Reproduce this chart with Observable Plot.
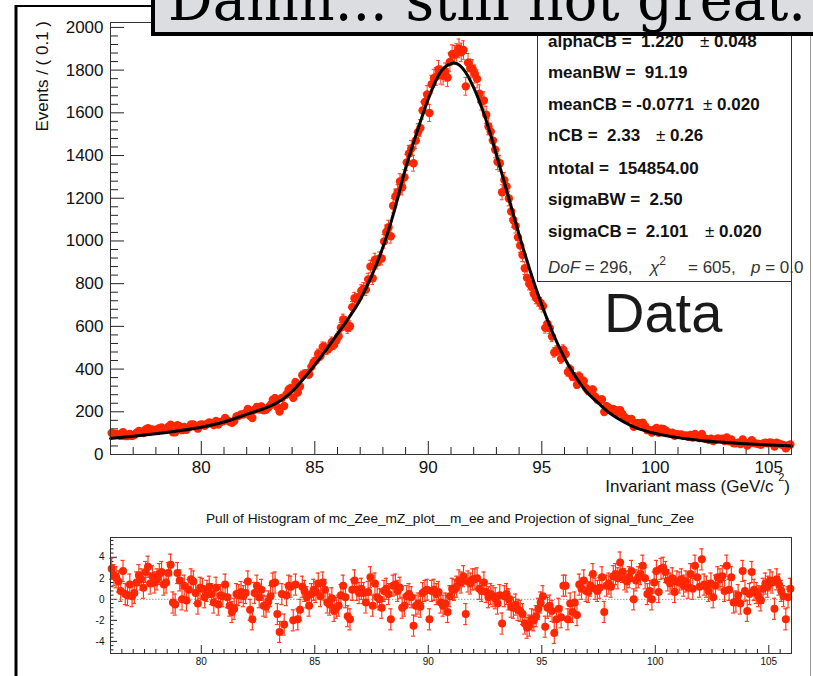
<!DOCTYPE html>
<html><head><meta charset="utf-8">
<script src="https://cdn.jsdelivr.net/npm/d3@7"></script>
<script src="https://cdn.jsdelivr.net/npm/@observablehq/plot@0.6"></script>
<style>
html,body{margin:0;padding:0;background:#fff;}
#wrap{position:relative;width:813px;height:676px;overflow:hidden;background:#fff;}
#top,#pull{position:absolute;left:0;width:813px;}
#top{top:0;} #pull{top:500px;}
#over{position:absolute;left:0;top:0;pointer-events:none;}
#top svg,#pull svg{max-width:none;background:transparent;}
</style></head><body>
<div id="wrap"><div id="top"></div><div id="pull"></div>
<svg id="over" width="813" height="676" font-family="'Liberation Sans', Arial, sans-serif"></svg>
</div>
<script>
// ---------- data ----------
const binLow = 76, binWidth = 0.1;
const counts = [
101,97,96,94,87,105,86,86,96,87,
91,102,110,107,101,117,123,109,117,112,
117,123,127,116,120,130,140,104,104,137,
131,114,129,116,128,141,141,130,121,140,
141,134,143,150,145,138,157,140,153,155,
171,160,153,149,157,178,181,188,187,194,
213,180,171,210,223,211,225,207,209,220,
232,256,264,223,201,265,227,281,304,311,
266,338,291,319,371,377,378,376,411,432,
441,472,461,504,503,490,500,527,514,534,
554,594,632,621,592,601,690,732,727,737,
767,777,772,820,880,825,912,899,918,918,
998,1042,1064,1022,1165,1208,1228,1279,1251,1298,
1368,1410,1433,1364,1470,1510,1529,1611,1651,1686,
1599,1734,1762,1770,1803,1777,1773,1791,1765,1838,
1875,1872,1880,1902,1883,1894,1724,1835,1809,1806,
1782,1759,1690,1654,1658,1591,1536,1512,1470,1427,
1371,1364,1228,1285,1255,1199,1138,1097,1070,1017,
978,934,872,827,799,785,752,733,722,708,
694,593,612,591,552,478,487,488,448,491,
470,386,399,365,365,327,367,344,344,311,
297,297,304,271,258,252,258,199,226,219,
206,213,208,196,208,190,175,167,165,166,
130,147,146,145,149,133,114,114,103,116,
124,102,121,120,114,104,100,102,88,95,
93,94,87,89,83,92,79,96,85,77,
96,76,73,69,74,63,70,75,73,74,
63,80,62,70,52,52,55,49,70,56,
42,53,67,54,51,49,46,52,55,52,
56,54,37,55,51,47,43,29,42,47];
const pulls = [
2.9,2.3,2.1,1.7,0.8,2.7,0.5,0.4,1.4,0.3,
0.6,1.6,2.3,1.9,1.1,2.6,3.1,1.5,2.2,1.6,
1.9,2.4,2.6,1.4,1.6,2.5,3.3,-0.3,-0.5,2.5,
1.8,0.0,1.3,-0.1,0.9,1.9,1.7,0.6,-0.4,1.1,
1.0,0.2,0.8,1.2,0.5,-0.3,1.1,-0.5,0.4,0.3,
1.4,0.2,-0.6,-1.2,-0.9,0.5,0.4,0.7,0.3,0.6,
1.7,-1.0,-1.9,0.6,1.3,0.2,0.9,-0.6,-0.7,-0.2,
0.3,1.5,1.6,-1.4,-3.1,0.5,-2.4,0.4,1.3,1.2,
-2.0,1.4,-1.9,-1.0,1.2,0.8,0.2,-0.6,0.5,0.9,
0.7,1.5,0.3,1.6,0.9,-0.3,-0.5,0.1,-1.1,-0.8,
-0.6,0.4,1.3,0.2,-1.6,-1.9,0.9,1.8,0.9,0.6,
1.0,0.6,-0.3,0.7,2.1,-0.6,1.5,0.2,0.0,-0.8,
0.8,1.0,0.5,-1.9,1.3,1.4,0.8,1.1,-0.8,-0.6,
0.3,0.5,0.2,-2.5,-0.6,-0.4,-0.7,0.6,0.8,0.9,
-1.9,0.8,0.9,0.5,0.7,-0.3,-0.6,-0.4,-1.2,0.3,
1.0,0.9,1.2,1.8,1.6,2.2,-1.4,1.7,1.5,1.9,
1.9,2.0,1.0,0.8,1.6,0.7,0.2,0.5,0.3,0.1,
-0.4,0.4,-2.3,0.3,0.5,0.0,-0.7,-0.8,-0.5,-1.0,
-1.1,-1.4,-2.3,-2.7,-2.5,-1.9,-2.0,-1.6,-0.9,-0.3,
0.3,-2.6,-0.8,-0.6,-1.1,-3.2,-1.9,-0.9,-1.7,1.3,
1.3,-1.9,-0.4,-1.2,-0.3,-1.5,1.4,1.0,1.8,0.8,
0.7,1.3,2.4,1.0,0.8,1.1,2.1,-1.2,1.3,1.5,
1.2,2.2,2.4,2.0,3.5,2.6,1.9,1.7,2.1,2.7,
0.0,1.8,2.1,2.4,3.2,2.0,0.5,0.8,0.0,1.6,
2.7,0.7,2.9,3.0,2.6,1.8,1.5,2.0,0.7,1.7,
1.6,1.9,1.3,1.7,1.1,2.4,1.0,3.2,2.1,1.2,
3.8,1.4,1.2,0.8,1.5,0.2,1.3,2.1,1.9,2.2,
0.8,3.2,0.9,2.1,-0.3,-0.2,0.4,-0.4,2.7,0.8,
-1.1,0.5,2.6,0.9,0.6,0.3,-0.1,1.0,1.5,1.2,
1.8,1.6,-0.9,1.9,1.4,0.8,0.3,-1.9,0.2,1.0];
const fitX = [76,77,78,79,80,81,82,83,83.5,84,84.5,85,85.5,86,86.5,87,87.5,88,88.5,89,89.5,90,90.5,91,91.11,91.5,92,92.5,93,93.5,94,94.5,95,95.5,96,96.5,97,97.5,98,98.5,99,99.5,100,101,102,103,104,105,106];
const fitY = [75,85,97,111,128,152,188,225,253,295,355,420,490,565,640,725,835,970,1140,1340,1510,1665,1785,1830,1833,1810,1718,1580,1405,1218,1030,856,700,565,452,362,290,240,193,160,132,113,98,79,66,57,50,44,40];
const xMajor = [80,85,90,95,100,105];
const yMajor = [0,200,400,600,800,1000,1200,1400,1600,1800,2000];
const pullMajor = [-4,-2,0,2,4];

// ---------- derived ----------
const bins = counts.map((c,i)=>({x: binLow + binWidth*(i+0.5), y: c, e: Math.sqrt(c)}));
const pullBins = pulls.map((p,i)=>({x: binLow + binWidth*(i+0.5), y: p}));
const fit = fitX.map((x,i)=>({x, y: fitY[i]}));
const xMinor = d3.range(76,107,1).filter(v=>!xMajor.includes(v));
const yMinor = d3.range(0,2001,40).filter(v=>v%200!==0);
const pxMinor = d3.range(76,106.01,0.5).filter(v=>v%5!==0);
const pyMinor = d3.range(-4.8,5.7,0.4).map(v=>+v.toFixed(1)).filter(v=>Math.abs(v%2)>0.01);

const red = "#ff2600", ebar = "#ff3a1a", tick = "#222";
const W = 813, L = 110, R = 22;
const frameW = W - L - R;
const font = "'Liberation Sans', Arial, Helvetica, sans-serif";

// ---------- top panel ----------
const T = 22, B = 46, H = 500, frameH = H - T - B;
const topPlot = Plot.plot({
  width: W, height: H, marginLeft: L, marginRight: R, marginTop: T, marginBottom: B,
  style: {fontFamily: font, fontSize: "17px", color: "#111", background: "transparent"},
  x: {domain: [76,106], ticks: xMajor, tickSize: 0, tickPadding: 6, tickFormat: d=>String(d), label: null},
  y: {domain: [0,2023], ticks: yMajor, tickSize: 0, tickPadding: 7, tickFormat: d=>String(d), label: null},
  marks: [
    Plot.ruleX(xMinor, {x: d=>d, insetTop: frameH-7, stroke: tick}),
    Plot.ruleX(xMajor, {x: d=>d, insetTop: frameH-13, stroke: tick}),
    Plot.ruleY(yMinor, {y: d=>d, insetRight: frameW-8, stroke: tick}),
    Plot.ruleY(yMajor, {y: d=>d, insetRight: frameW-14, stroke: tick}),
    Plot.ruleX(bins, {x: "x", y1: d=>d.y-d.e, y2: d=>d.y+d.e, stroke: ebar, strokeWidth: 1}),
    Plot.ruleY(bins, {y: d=>d.y+d.e, x1: d=>d.x-0.08, x2: d=>d.x+0.08, stroke: ebar, strokeWidth: 1}),
    Plot.ruleY(bins, {y: d=>d.y-d.e, x1: d=>d.x-0.08, x2: d=>d.x+0.08, stroke: ebar, strokeWidth: 1}),
    Plot.dot(bins, {x: "x", y: "y", r: 4.2, fill: red, stroke: "none"}),
    Plot.line(fit, {x: "x", y: "y", stroke: "#000", strokeWidth: 3, curve: "monotone-x"}),
    Plot.frame({stroke: "#333"})
  ]
});
document.getElementById("top").appendChild(topPlot);

// ---------- pull panel ----------
const PT = 37, PB = 23, PH = 176, pFrameH = PH - PT - PB;
const pullPlot = Plot.plot({
  width: W, height: PH, marginLeft: L, marginRight: R, marginTop: PT, marginBottom: PB,
  style: {fontFamily: font, fontSize: "10px", color: "#111", background: "transparent"},
  x: {domain: [76,106], ticks: xMajor, tickSize: 0, tickPadding: 4, tickFormat: d=>String(d), label: null},
  y: {domain: [-5.15,5.88], ticks: pullMajor, tickSize: 0, tickPadding: 6, tickFormat: d=>String(d), label: null},
  marks: [
    Plot.ruleX(pxMinor, {x: d=>d, insetTop: pFrameH-4, stroke: tick}),
    Plot.ruleX(xMajor, {x: d=>d, insetTop: pFrameH-8, stroke: tick}),
    Plot.ruleY(pyMinor, {y: d=>d, insetRight: frameW-3.5, stroke: tick}),
    Plot.ruleY(pullMajor, {y: d=>d, insetRight: frameW-7, stroke: tick}),
    Plot.ruleY([0], {stroke: "#999", strokeDasharray: "1.5,1.5"}),
    Plot.ruleX(pullBins, {x: "x", y1: d=>d.y-1, y2: d=>d.y+1, stroke: ebar, strokeWidth: 1.2}),
    Plot.ruleY(pullBins, {y: d=>d.y+1, x1: d=>d.x-0.09, x2: d=>d.x+0.09, stroke: ebar, strokeWidth: 1.2}),
    Plot.ruleY(pullBins, {y: d=>d.y-1, x1: d=>d.x-0.09, x2: d=>d.x+0.09, stroke: ebar, strokeWidth: 1.2}),
    Plot.dot(pullBins, {x: "x", y: "y", r: 4, fill: red, stroke: "none"}),
    Plot.frame({stroke: "#333"})
  ]
});
document.getElementById("pull").appendChild(pullPlot);

// ---------- overlay texts and boxes ----------
const S = "\u00A0";
const over = document.getElementById("over");
over.innerHTML = `
<line x1="16" y1="5" x2="16" y2="676" stroke="#000" stroke-width="3"/>
<line x1="15" y1="6" x2="813" y2="6" stroke="#000" stroke-width="2"/>
<line x1="810.5" y1="0" x2="810.5" y2="676" stroke="#999" stroke-width="1"/>
<text transform="translate(48,21) rotate(-90)" text-anchor="end" font-size="17" fill="#111">Events / ( 0.1 )</text>
<text x="790" y="492" text-anchor="end" font-size="17" fill="#111">Invariant mass (GeV/c${S}<tspan dy="-11" font-size="11">2</tspan><tspan dy="11">)</tspan></text>
<rect x="537.5" y="0" width="254" height="281.5" fill="#fff" stroke="#333" stroke-width="1"/>
<g font-size="17" font-weight="bold" fill="#111">
<text x="548" y="46.5">alphaCB =${S}${S}1.220</text><text x="700" y="46.5"><tspan font-weight="normal">±</tspan>${S}0.048</text>
<text x="548" y="78">meanBW =${S}${S}91.19</text>
<text x="548" y="109.5">meanCB = -0.0771</text><text x="703" y="109.5"><tspan font-weight="normal">±</tspan>${S}0.020</text>
<text x="548" y="141">nCB =${S}${S}2.33</text><text x="656" y="141"><tspan font-weight="normal">±</tspan>${S}0.26</text>
<text x="548" y="173.5">ntotal =${S}${S}154854.00</text>
<text x="548" y="205">sigmaBW =${S}${S}2.50</text>
<text x="548" y="236.5">sigmaCB =${S}${S}2.101</text><text x="705" y="236.5"><tspan font-weight="normal">±</tspan>${S}0.020</text>
</g>
<g font-size="17" fill="#333">
<text x="548" y="273"><tspan font-style="italic">DoF</tspan> = 296,</text>
<text x="650" y="273"><tspan font-style="italic">χ</tspan><tspan dy="-8" font-size="12">2</tspan></text>
<text x="688" y="273">= 605,</text>
<text x="751" y="273"><tspan font-style="italic">p</tspan> = 0.0</text>
</g>
<text x="604" y="332" font-size="56" fill="#1a1a1a">Data</text>
<text x="450" y="523" text-anchor="middle" font-size="13" fill="#111" textLength="488" lengthAdjust="spacingAndGlyphs">Pull of Histogram of mc_Zee_mZ_plot__m_ee and Projection of signal_func_Zee</text>
<rect x="153" y="-20" width="700" height="54" fill="#dcdde0" stroke="#000" stroke-width="4"/>
<text x="168" y="20" font-family="'DejaVu Serif', 'Liberation Serif', serif" font-size="60" fill="#000" textLength="638" lengthAdjust="spacingAndGlyphs">Damn... still not great.</text>
`;
</script>
</body></html>
